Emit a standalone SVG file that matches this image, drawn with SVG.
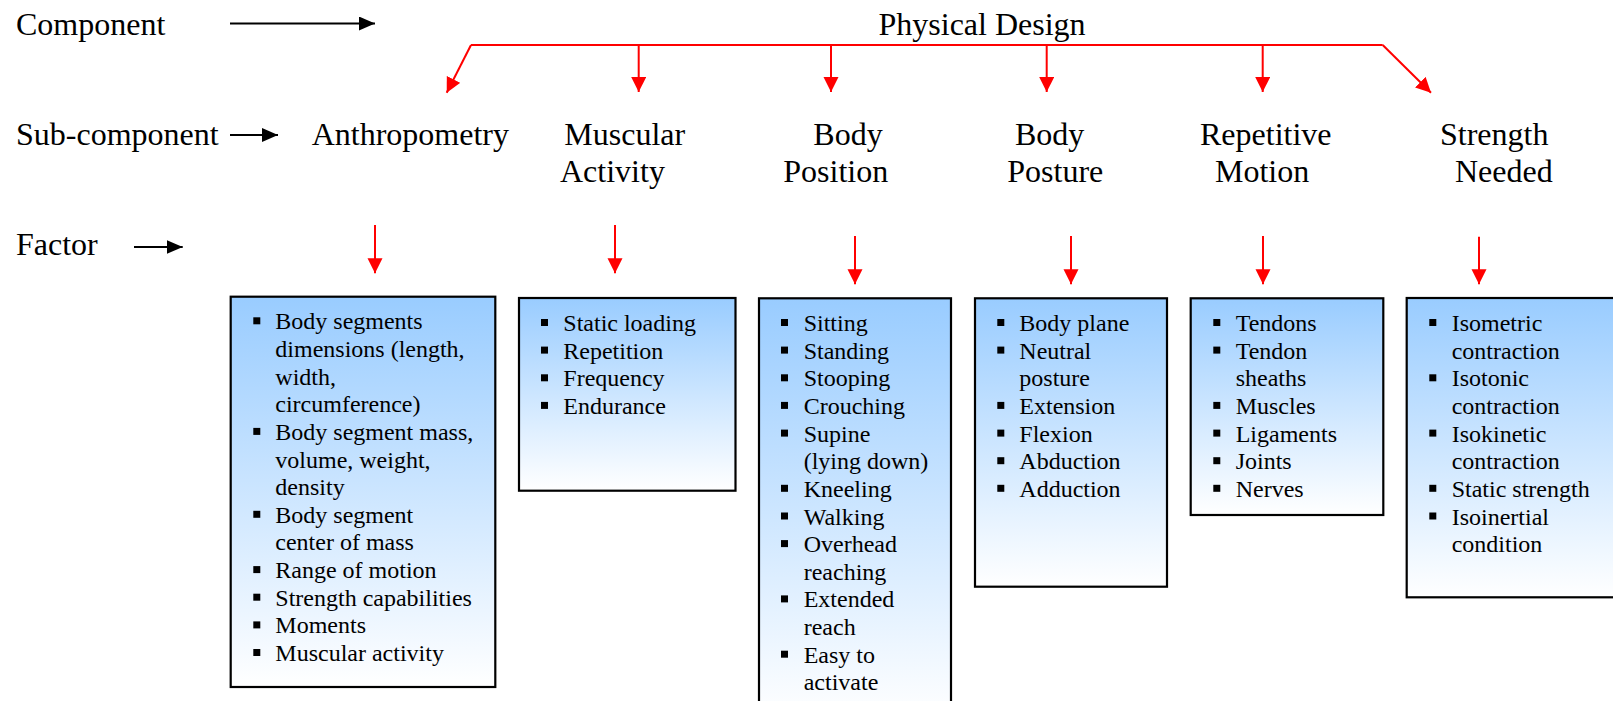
<svg xmlns="http://www.w3.org/2000/svg" width="1613" height="701" viewBox="0 0 1613 701">
  <style>
    text { font-family: "Liberation Serif", "Times New Roman", serif; fill: #000; }
    .hdr { font-size: 32px; }
    .item { font-size: 24px; }
    .box { fill: url(#boxFill); stroke: #000; stroke-width: 2.2; }
    .bullet { fill: #000; }
    .blk { stroke: #000; stroke-width: 2; fill: none; marker-end: url(#headBlack); }
    .red { stroke: #ff0000; stroke-width: 2; fill: none; }
    .redArrow { stroke: #ff0000; stroke-width: 2; fill: none; marker-end: url(#headRed); }
  </style>
  <defs>
    <linearGradient id="boxFill" x1="0" y1="0" x2="0" y2="1">
      <stop offset="0" stop-color="#99ccff"/>
      <stop offset="1" stop-color="#ffffff"/>
    </linearGradient>
    <marker id="headRed" markerUnits="userSpaceOnUse" markerWidth="16" markerHeight="16" refX="15" refY="7.5" orient="auto">
      <path d="M0,0 L15,7.5 L0,15 z" fill="#ff0000"/>
    </marker>
    <marker id="headBlack" markerUnits="userSpaceOnUse" markerWidth="17" markerHeight="16" refX="16" refY="7" orient="auto">
      <path d="M0,0 L16,7 L0,14 z" fill="#000"/>
    </marker>
  </defs>

  <rect width="1613" height="701" fill="#fff"/>

  <!-- level labels -->
  <g id="level-labels">
    <text class="hdr" x="16" y="34.5">Component</text>
    <text class="hdr" x="16" y="145">Sub-component</text>
    <text class="hdr" x="16" y="255">Factor</text>
  </g>

  <!-- component -->
  <g id="physical-design">
    <text class="hdr" x="878.5" y="34.5">Physical Design</text>
  </g>

  <!-- sub-components -->
  <g id="anthropometry">
    <text class="hdr" x="311.7" y="145">Anthropometry</text>
  </g>
  <g id="muscular-activity">
    <text class="hdr" x="564.3" y="145">Muscular</text>
    <text class="hdr" x="560" y="181.7">Activity</text>
  </g>
  <g id="body-position">
    <text class="hdr" x="813.3" y="145">Body</text>
    <text class="hdr" x="783.3" y="181.7">Position</text>
  </g>
  <g id="body-posture">
    <text class="hdr" x="1015" y="145">Body</text>
    <text class="hdr" x="1007.3" y="181.7">Posture</text>
  </g>
  <g id="repetitive-motion">
    <text class="hdr" x="1200" y="145">Repetitive</text>
    <text class="hdr" x="1215" y="181.7">Motion</text>
  </g>
  <g id="strength-needed">
    <text class="hdr" x="1440" y="145">Strength</text>
    <text class="hdr" x="1455" y="181.7">Needed</text>
  </g>

  <!-- factor boxes -->
  <g id="factors-anthropometry">
    <rect class="box" x="230.7" y="296.7" width="264.6" height="390.3"/>
    <g class="bullet">
      <rect x="253.3" y="317.3" width="7" height="7"/>
      <rect x="253.3" y="427.9" width="7" height="7"/>
      <rect x="253.3" y="510.8" width="7" height="7"/>
      <rect x="253.3" y="566.1" width="7" height="7"/>
      <rect x="253.3" y="593.7" width="7" height="7"/>
      <rect x="253.3" y="621.4" width="7" height="7"/>
      <rect x="253.3" y="649.0" width="7" height="7"/>
    </g>
    <text class="item">
      <tspan x="275.3" y="329.3">Body segments</tspan>
      <tspan x="275.3" y="356.9">dimensions (length,</tspan>
      <tspan x="275.3" y="384.6">width,</tspan>
      <tspan x="275.3" y="412.2">circumference)</tspan>
      <tspan x="275.3" y="439.9">Body segment mass,</tspan>
      <tspan x="275.3" y="467.5">volume, weight,</tspan>
      <tspan x="275.3" y="495.1">density</tspan>
      <tspan x="275.3" y="522.8">Body segment</tspan>
      <tspan x="275.3" y="550.4">center of mass</tspan>
      <tspan x="275.3" y="578.1">Range of motion</tspan>
      <tspan x="275.3" y="605.7">Strength capabilities</tspan>
      <tspan x="275.3" y="633.3">Moments</tspan>
      <tspan x="275.3" y="661.0">Muscular activity</tspan>
    </text>
  </g>

  <g id="factors-muscular-activity">
    <rect class="box" x="519" y="298" width="216.5" height="192.7"/>
    <g class="bullet">
      <rect x="541" y="319" width="7" height="7"/>
      <rect x="541" y="346.6" width="7" height="7"/>
      <rect x="541" y="374.3" width="7" height="7"/>
      <rect x="541" y="401.9" width="7" height="7"/>
    </g>
    <text class="item">
      <tspan x="563.3" y="331">Static loading</tspan>
      <tspan x="563.3" y="358.6">Repetition</tspan>
      <tspan x="563.3" y="386.3">Frequency</tspan>
      <tspan x="563.3" y="413.9">Endurance</tspan>
    </text>
  </g>

  <g id="factors-body-position">
    <rect class="box" x="759" y="298.3" width="192" height="420"/>
    <g class="bullet">
      <rect x="781" y="319" width="7" height="7"/>
      <rect x="781" y="346.6" width="7" height="7"/>
      <rect x="781" y="374.3" width="7" height="7"/>
      <rect x="781" y="401.9" width="7" height="7"/>
      <rect x="781" y="429.6" width="7" height="7"/>
      <rect x="781" y="484.8" width="7" height="7"/>
      <rect x="781" y="512.5" width="7" height="7"/>
      <rect x="781" y="540.1" width="7" height="7"/>
      <rect x="781" y="595.4" width="7" height="7"/>
      <rect x="781" y="650.7" width="7" height="7"/>
    </g>
    <text class="item">
      <tspan x="803.7" y="331">Sitting</tspan>
      <tspan x="803.7" y="358.6">Standing</tspan>
      <tspan x="803.7" y="386.3">Stooping</tspan>
      <tspan x="803.7" y="413.9">Crouching</tspan>
      <tspan x="803.7" y="441.6">Supine</tspan>
      <tspan x="803.7" y="469.2">(lying down)</tspan>
      <tspan x="803.7" y="496.8">Kneeling</tspan>
      <tspan x="803.7" y="524.5">Walking</tspan>
      <tspan x="803.7" y="552.1">Overhead</tspan>
      <tspan x="803.7" y="579.8">reaching</tspan>
      <tspan x="803.7" y="607.4">Extended</tspan>
      <tspan x="803.7" y="635.0">reach</tspan>
      <tspan x="803.7" y="662.7">Easy to</tspan>
      <tspan x="803.7" y="690.3">activate</tspan>
    </text>
  </g>

  <g id="factors-body-posture">
    <rect class="box" x="975" y="298.3" width="192" height="288.4"/>
    <g class="bullet">
      <rect x="997.3" y="319" width="7" height="7"/>
      <rect x="997.3" y="346.6" width="7" height="7"/>
      <rect x="997.3" y="401.9" width="7" height="7"/>
      <rect x="997.3" y="429.6" width="7" height="7"/>
      <rect x="997.3" y="457.2" width="7" height="7"/>
      <rect x="997.3" y="484.8" width="7" height="7"/>
    </g>
    <text class="item">
      <tspan x="1019.3" y="331">Body plane</tspan>
      <tspan x="1019.3" y="358.6">Neutral</tspan>
      <tspan x="1019.3" y="386.3">posture</tspan>
      <tspan x="1019.3" y="413.9">Extension</tspan>
      <tspan x="1019.3" y="441.6">Flexion</tspan>
      <tspan x="1019.3" y="469.2">Abduction</tspan>
      <tspan x="1019.3" y="496.8">Adduction</tspan>
    </text>
  </g>

  <g id="factors-repetitive-motion">
    <rect class="box" x="1190.7" y="298.3" width="192.6" height="216.7"/>
    <g class="bullet">
      <rect x="1213.3" y="319" width="7" height="7"/>
      <rect x="1213.3" y="346.6" width="7" height="7"/>
      <rect x="1213.3" y="401.9" width="7" height="7"/>
      <rect x="1213.3" y="429.6" width="7" height="7"/>
      <rect x="1213.3" y="457.2" width="7" height="7"/>
      <rect x="1213.3" y="484.8" width="7" height="7"/>
    </g>
    <text class="item">
      <tspan x="1235.7" y="331">Tendons</tspan>
      <tspan x="1235.7" y="358.6">Tendon</tspan>
      <tspan x="1235.7" y="386.3">sheaths</tspan>
      <tspan x="1235.7" y="413.9">Muscles</tspan>
      <tspan x="1235.7" y="441.6">Ligaments</tspan>
      <tspan x="1235.7" y="469.2">Joints</tspan>
      <tspan x="1235.7" y="496.8">Nerves</tspan>
    </text>
  </g>

  <g id="factors-strength-needed">
    <rect class="box" x="1406.7" y="298" width="230" height="299.3"/>
    <g class="bullet">
      <rect x="1429.3" y="319" width="7" height="7"/>
      <rect x="1429.3" y="374.3" width="7" height="7"/>
      <rect x="1429.3" y="429.6" width="7" height="7"/>
      <rect x="1429.3" y="484.8" width="7" height="7"/>
      <rect x="1429.3" y="512.5" width="7" height="7"/>
    </g>
    <text class="item">
      <tspan x="1451.7" y="331">Isometric</tspan>
      <tspan x="1451.7" y="358.6">contraction</tspan>
      <tspan x="1451.7" y="386.3">Isotonic</tspan>
      <tspan x="1451.7" y="413.9">contraction</tspan>
      <tspan x="1451.7" y="441.6">Isokinetic</tspan>
      <tspan x="1451.7" y="469.2">contraction</tspan>
      <tspan x="1451.7" y="496.8">Static strength</tspan>
      <tspan x="1451.7" y="524.5">Isoinertial</tspan>
      <tspan x="1451.7" y="552.1">condition</tspan>
    </text>
  </g>

  <!-- connectors -->
  <g id="connectors">
    <line class="blk" x1="230" y1="23.5" x2="375" y2="23.5"/>
    <line class="blk" x1="230" y1="135" x2="278" y2="135"/>
    <line class="blk" x1="134" y1="247" x2="182.7" y2="247"/>

    <line class="red" x1="471" y1="45" x2="1382.7" y2="45"/>
    <line class="redArrow" x1="471" y1="45" x2="446.7" y2="92.7"/>
    <line class="redArrow" x1="638.7" y1="45" x2="638.7" y2="92"/>
    <line class="redArrow" x1="831" y1="45" x2="831" y2="92"/>
    <line class="redArrow" x1="1046.7" y1="45" x2="1046.7" y2="92"/>
    <line class="redArrow" x1="1262.7" y1="45" x2="1262.7" y2="92"/>
    <line class="redArrow" x1="1382.7" y1="45" x2="1431" y2="92.7"/>

    <line class="redArrow" x1="375" y1="225" x2="375" y2="273.3"/>
    <line class="redArrow" x1="615" y1="225" x2="615" y2="273.3"/>
    <line class="redArrow" x1="855" y1="236" x2="855" y2="284.3"/>
    <line class="redArrow" x1="1071" y1="236" x2="1071" y2="284.3"/>
    <line class="redArrow" x1="1263" y1="236" x2="1263" y2="284.3"/>
    <line class="redArrow" x1="1479" y1="236.7" x2="1479" y2="284.3"/>
  </g>
</svg>
